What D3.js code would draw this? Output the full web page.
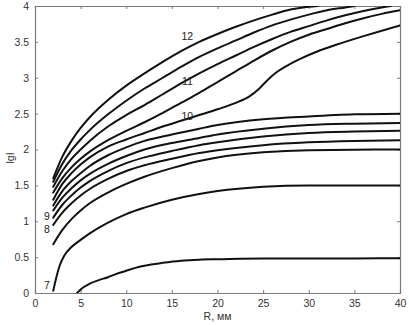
<!DOCTYPE html>
<html><head><meta charset="utf-8">
<script src="https://cdn.jsdelivr.net/npm/d3@7"></script>
<style>body{margin:0;background:#fff}svg{display:block}</style>
</head><body>
<svg id="c" width="409" height="325"></svg>
<script>
const xTicks = [0,5,10,15,20,25,30,35,40];
const yTicks = [0,0.5,1,1.5,2,2.5,3,3.5,4];
const yTickLabels = ["0","0.5","1","1.5","2","2.5","3","3.5","4"];
const xLabel = "R, мм";
const yLabel = "lgI";

const curveBottom = [[4.6,0],[5,0.05],[6,0.13],[7,0.18],[8,0.22],[9,0.27],[10,0.31],[11,0.35],[12,0.38],[14,0.42],[16,0.45],[18,0.465],[20,0.47],[25,0.48],[30,0.48],[35,0.482],[40,0.485]];
const curve7 = [[2,0.03],[2.3,0.2],[2.7,0.38],[3.2,0.52],[4,0.64],[5,0.74],[6,0.83],[8,0.98],[10,1.1],[12,1.19],[15,1.3],[18,1.38],[20,1.42],[25,1.48],[30,1.5],[40,1.5]];
const curve8 = [[2,0.68],[3,0.88],[4,1.03],[5,1.15],[6,1.25],[8,1.4],[10,1.52],[12,1.62],[15,1.74],[18,1.84],[20,1.89],[25,1.96],[30,1.99],[40,2.0]];
const curve9 = [[2,0.95],[3,1.12],[4,1.25],[5,1.36],[6,1.45],[8,1.59],[10,1.7],[12,1.78],[15,1.87],[18,1.95],[20,1.99],[25,2.06],[30,2.1],[35,2.12],[40,2.13]];
const curveF1 = [[2,1.05],[3,1.23],[4,1.36],[5,1.47],[6,1.56],[8,1.7],[10,1.81],[12,1.89],[15,1.98],[18,2.06],[20,2.1],[25,2.18],[30,2.23],[35,2.25],[40,2.26]];
const curveF2 = [[2,1.15],[3,1.33],[4,1.46],[5,1.57],[6,1.66],[8,1.8],[10,1.91],[12,2.0],[15,2.09],[18,2.16],[20,2.21],[25,2.29],[30,2.34],[35,2.36],[40,2.37]];
const curveF3 = [[2,1.22],[3,1.42],[4,1.56],[5,1.67],[6,1.77],[8,1.92],[10,2.03],[12,2.12],[15,2.21],[18,2.29],[20,2.34],[25,2.42],[30,2.46],[35,2.49],[40,2.5]];
const curve10 = [[2,1.3],[3,1.52],[4,1.67],[5,1.79],[6,1.89],[8,2.04],[10,2.14],[12,2.23],[14,2.32],[16,2.4],[18,2.48],[20,2.56],[22,2.65],[23.5,2.74],[24.5,2.84],[25.5,2.97],[26.5,3.08],[27.5,3.16],[29,3.26],[31,3.37],[33,3.46],[36,3.58],[40,3.73]];
const curveE = [[2,1.4],[3,1.6],[4,1.75],[5,1.87],[6,1.97],[8,2.13],[10,2.26],[12,2.38],[14,2.51],[16,2.65],[18,2.79],[20,2.94],[22,3.09],[24,3.24],[26,3.38],[28,3.5],[30,3.6],[32,3.68],[34,3.76],[36,3.83],[38,3.89],[40,3.94]];
const curve11 = [[2,1.48],[3,1.7],[4,1.87],[5,2.0],[6,2.12],[8,2.32],[10,2.48],[12,2.62],[14,2.77],[16,2.92],[18,3.06],[20,3.19],[22,3.31],[24,3.43],[26,3.54],[28,3.64],[30,3.72],[32,3.8],[34,3.87],[36,3.93],[38,3.98],[39,4.0]];
const curveB = [[2,1.55],[3,1.8],[4,1.99],[5,2.14],[6,2.27],[8,2.49],[10,2.68],[12,2.85],[14,3.0],[16,3.15],[18,3.29],[20,3.41],[22,3.52],[24,3.63],[26,3.73],[28,3.81],[30,3.88],[32,3.94],[34,3.98],[35,4.0]];
const curve12 = [[2,1.6],[3,1.9],[4,2.12],[5,2.3],[6,2.45],[8,2.69],[10,2.89],[12,3.06],[14,3.22],[16,3.37],[18,3.5],[20,3.61],[22,3.71],[24,3.8],[26,3.88],[28,3.95],[30,3.99],[31,4.0]];
const curves = [curveBottom, curve7, curve8, curve9, curveF1, curveF2, curveF3, curve10, curveE, curve11, curveB, curve12];

const labelTexts = ["12","11","10","9","8","7"];
const labelPos = [[16.7,3.57],[16.7,2.94],[16.7,2.45],[1.3,1.06],[1.3,0.88],[1.3,0.1]];

const m = {l:35, r:9, t:6, b:32};
const W = 409, H = 325;
const svg = d3.select("#c");
const x = d3.scaleLinear().domain([0,40]).range([m.l, W-m.r]);
const y = d3.scaleLinear().domain([0,4]).range([H-m.b, m.t]);

svg.append("defs").append("clipPath").attr("id","clip").append("rect")
  .attr("x", m.l).attr("y", m.t).attr("width", W-m.r-m.l).attr("height", H-m.b-m.t);

const frameColor = "#7a7a7a";
const font = "'Liberation Sans', Arial, sans-serif";

const axB = svg.append("g").attr("transform",`translate(0,${H-m.b})`)
  .call(d3.axisBottom(x).tickValues(xTicks).tickSize(-3).tickPadding(7).tickFormat(d3.format("d")));
const axT = svg.append("g").attr("transform",`translate(0,${m.t})`)
  .call(d3.axisTop(x).tickValues(xTicks).tickSize(-3).tickFormat(""));
const axL = svg.append("g").attr("transform",`translate(${m.l},0)`)
  .call(d3.axisLeft(y).tickValues(yTicks).tickSize(-3).tickPadding(6).tickFormat((d,i)=>yTickLabels[i]));
const axR = svg.append("g").attr("transform",`translate(${W-m.r},0)`)
  .call(d3.axisRight(y).tickValues(yTicks).tickSize(-3).tickFormat(""));
[axB,axT,axL,axR].forEach(a=>{
  a.selectAll("path.domain").attr("stroke",frameColor).attr("stroke-width",1.2);
  a.selectAll(".tick line").attr("stroke",frameColor);
  a.selectAll("text").attr("fill","#333").style("font-family",font).style("font-size","10.5px");
});

const line = d3.line().x(d=>x(d[0])).y(d=>y(d[1])).curve(d3.curveMonotoneX);
svg.append("g").attr("clip-path","url(#clip)").selectAll("path").data(curves).join("path")
  .attr("d", line).attr("fill","none").attr("stroke","#111").attr("stroke-width",2)
  .attr("stroke-linejoin","round").attr("stroke-linecap","round");

svg.append("g").selectAll("text").data(labelTexts).join("text")
  .attr("x",(d,i)=>x(labelPos[i][0])).attr("y",(d,i)=>y(labelPos[i][1]))
  .attr("text-anchor","middle").attr("dominant-baseline","middle")
  .style("font-family",font).style("font-size","10.5px").attr("fill","#222").text(d=>d);

svg.append("text").attr("x", (x(0)+x(40))/2).attr("y", H-5).attr("text-anchor","middle")
  .style("font-family",font).style("font-size","10.5px").attr("fill","#333").text(xLabel);
svg.append("text").attr("transform",`translate(11,158) rotate(-90)`).attr("text-anchor","middle")
  .attr("dominant-baseline","middle")
  .style("font-family",font).style("font-size","10.5px").attr("fill","#333").text(yLabel);
</script>
</body></html>
